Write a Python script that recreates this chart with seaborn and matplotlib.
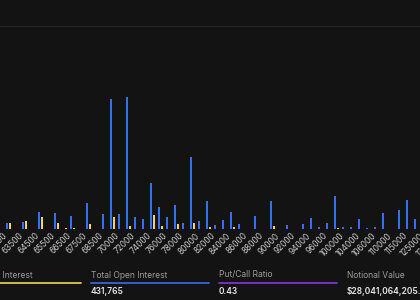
import matplotlib
matplotlib.use("Agg")
import matplotlib.pyplot as plt
from matplotlib.lines import Line2D
from matplotlib.transforms import ScaledTranslation
import seaborn as sns
import pandas as pd

strikes = ["62500", "63000", "63500", "64000", "64500", "65000", "65500", "66000",
           "66500", "67000", "67500", "68000", "68500", "69000", "70000", "71000",
           "72000", "73000", "74000", "75000", "76000", "77000", "78000", "79000",
           "80000", "81000", "82000", "83000", "84000", "85000", "86000", "87000",
           "88000", "89000", "90000", "91000", "92000", "93000", "94000", "95000",
           "96000", "98000", "100000", "102000", "104000", "105000", "106000", "108000",
           "110000", "112000", "115000", "120000", "125000", "130000", "135000"]

calls_oi = [0, 0, 3000, 0, 3750, 0, 8750, 0, 8000, 0, 6750, 250, 13250, 0, 7500, 65000,
            7750, 66250, 5850, 5150, 22850, 11250, 6250, 12250, 3000, 36150, 4150, 14250,
            2000, 4750, 8500, 2750, 250, 6600, 0, 14250, 250, 2000, 0, 2500, 5750, 1250,
            3000, 16650, 1250, 850, 5000, 350, 850, 8250, 0, 9500, 14750, 5250, 0]

puts_oi = [0, 0, 3250, 0, 4250, 0, 6250, 0, 3250, 300, 400, 150, 2500, 0, 0, 6150,
           0, 1750, 0, 250, 6850, 1650, 0, 2500, 0, 3250, 0, 850,
           0, 0, 1250, 0, 0, 0, 0, 1650, 250, 0, 0, 0, 0, 0,
           0, 650, 0, 0, 0, 0, 0, 0, 0, 0, 0, 0, 0]

tick_labels = strikes[::2]

stat_labels = ["Put Open Interest", "Total Open Interest", "Put/Call Ratio", "Notional Value"]
stat_values = ["", "431,765", "0.43", "$28,041,064,205.12"]
stat_colors = ["#d8c85a", "#3a66d0", "#7a38c8", "#131313"]

BG = "#131313"
BLUE = "#3d6fe2"
YELLOW = "#e8d66a"

df = pd.DataFrame({
    "strike": strikes * 2,
    "series": ["Calls"] * len(strikes) + ["Puts"] * len(strikes),
    "oi": calls_oi + puts_oi,
})

sns.set_theme(style="dark")
plt.rcParams['font.family'] = ['Inter', 'DejaVu Sans']

W, H = 420, 300
fig = plt.figure(figsize=(4.2, 3.0), dpi=100, facecolor=BG)
# axes deliberately wider than the figure: the reference is a crop of a wider chart
ax = fig.add_axes([-20 / W, 71 / H, 460 / W, 202 / H])
ax.set_facecolor(BG)

sns.barplot(data=df, x="strike", y="oi", hue="series", order=strikes,
            hue_order=["Calls", "Puts"], palette=[BLUE, YELLOW], width=0.8, gap=0.2,
            saturation=1, errorbar=None, legend=False, linewidth=0, edgecolor="none",
            ax=ax)

n = len(strikes)
# category index 2 (63500) sits at pixel 8.5; 8 px per category
left_lim = 2 - (8.5 + 20) / 8
ax.set_xlim(left_lim, left_lim + 460 / 8)
ax.set_ylim(0, 101000)

ax.set_xticks(range(0, n, 2))
ax.set_xticklabels(tick_labels, rotation=45, ha="center", va="top",
                   fontsize=6.0, color="#cccccc")
ax.tick_params(axis="x", length=0, pad=1.5)
ax.tick_params(axis="y", left=False, labelleft=False)
offset = ScaledTranslation(4 / 100, 0, fig.dpi_scale_trans)
for lab in ax.get_xticklabels():
    lab.set_transform(lab.get_transform() + offset)
ax.set_xlabel("")
ax.set_ylabel("")
ax.grid(False)
for s in ax.spines.values():
    s.set_visible(False)

# faint divider near top
fig.add_artist(Line2D([0, 1], [1 - 26 / H, 1 - 26 / H], transform=fig.transFigure,
                      color="#242424", lw=1.0))

# stats panel
x0 = -37
for k, (lab, val, col) in enumerate(zip(stat_labels, stat_values, stat_colors)):
    xs = x0 + 128 * k
    fig.text(xs / W, 1 - 275 / H, lab, color="#9c9c9c", fontsize=6.1,
             ha="left", va="center")
    fig.add_artist(Line2D([xs / W, (xs + 118) / W], [1 - 283 / H, 1 - 283 / H],
                          transform=fig.transFigure, color=col, lw=1.3))
    if val:
        fig.text(xs / W, 1 - 292 / H, val, color="#e6e6e6", fontsize=6.1,
                 fontweight="semibold", ha="left", va="center")

fig.savefig("out.png", dpi=100, facecolor=BG)
